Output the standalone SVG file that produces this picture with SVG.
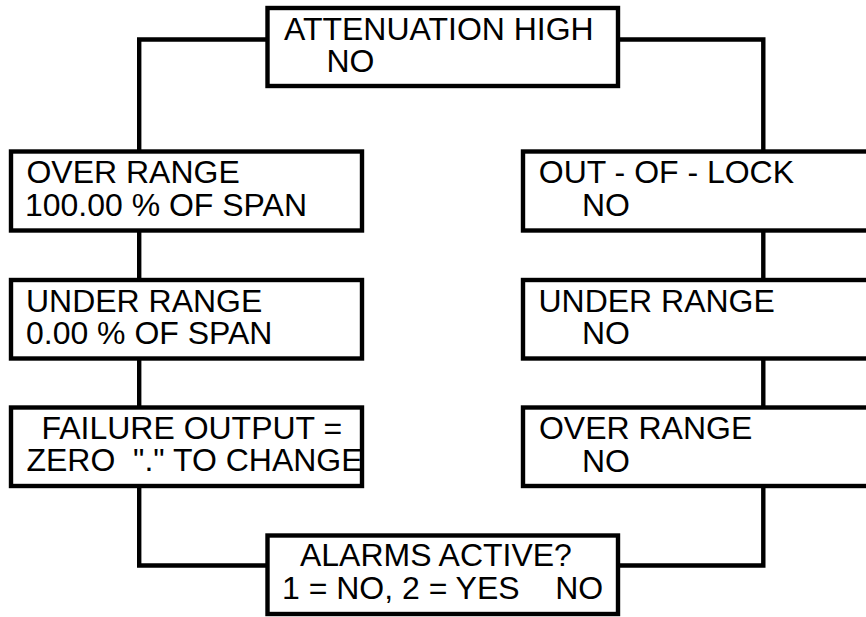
<svg xmlns="http://www.w3.org/2000/svg" width="866" height="617" viewBox="0 0 866 617">
<style>
.box{fill:none;stroke:#000;stroke-width:4.4}
.bg{fill:#fff;stroke:none}
.conn{fill:none;stroke:#000;stroke-width:4.4;stroke-linejoin:miter}
text{font-family:"Liberation Sans",Arial,sans-serif;font-size:31px;fill:#000}
</style>
<rect x="0" y="0" width="866" height="617" fill="#fff"/>
<g id="connectors">
<path class="conn" d="M267.5,39.5 H139.2 V151.5"/>
<path class="conn" d="M618,39.5 H763.3 V151.5"/>
<path class="conn" d="M139.2,230.5 V280"/>
<path class="conn" d="M139.2,358.5 V407.5"/>
<path class="conn" d="M139.2,486 V565.5 H267.5"/>
<path class="conn" d="M763.3,230.5 V280"/>
<path class="conn" d="M763.3,358.5 V407.5"/>
<path class="conn" d="M763.3,486 V565.5 H618"/>
</g>
<g id="n-atten">
<rect class="bg" x="267.5" y="8" width="350.5" height="78"/>
<text transform="matrix(1.032 0 0 1 284 39.7)">ATTENUATION HIGH</text>
<text transform="matrix(1.032 0 0 1 326.5 72)">NO</text>
<rect class="box" x="267.5" y="8" width="350.5" height="78"/>
</g>
<g id="n-over-span">
<rect class="bg" x="11" y="151.5" width="351" height="79"/>
<text transform="matrix(1.032 0 0 1 26.5 182.9)">OVER RANGE</text>
<text transform="matrix(1.032 0 0 1 25 215.7)">100.00 % OF SPAN</text>
<rect class="box" x="11" y="151.5" width="351" height="79"/>
</g>
<g id="n-under-span">
<rect class="bg" x="11" y="280" width="351" height="78.5"/>
<text transform="matrix(1.032 0 0 1 26 311.9)">UNDER RANGE</text>
<text transform="matrix(1.032 0 0 1 26 343.7)">0.00 % OF SPAN</text>
<rect class="box" x="11" y="280" width="351" height="78.5"/>
</g>
<g id="n-failure">
<rect class="bg" x="11" y="407.5" width="351" height="78.5"/>
<text transform="matrix(1.032 0 0 1 41.5 438.7)">FAILURE OUTPUT =</text>
<text xml:space="preserve" transform="matrix(1.032 0 0 1 26.5 471.2)">ZERO  "." TO CHANGE</text>
<rect class="box" x="11" y="407.5" width="351" height="78.5"/>
</g>
<g id="n-alarms">
<rect class="bg" x="267.5" y="535.5" width="350.5" height="78.5"/>
<text transform="matrix(1.032 0 0 1 300 566.2)">ALARMS ACTIVE?</text>
<text xml:space="preserve" transform="matrix(1.032 0 0 1 282 598.7)">1 = NO, 2 = YES    NO</text>
<rect class="box" x="267.5" y="535.5" width="350.5" height="78.5"/>
</g>
<g id="n-lock">
<rect class="bg" x="523" y="151.5" width="360" height="79"/>
<text transform="matrix(1.032 0 0 1 538.8 182.9)">OUT - OF - LOCK</text>
<text transform="matrix(1.032 0 0 1 582 215.7)">NO</text>
<rect class="box" x="523" y="151.5" width="360" height="79"/>
</g>
<g id="n-under-no">
<rect class="bg" x="523" y="280" width="360" height="78.5"/>
<text transform="matrix(1.032 0 0 1 538.5 311.9)">UNDER RANGE</text>
<text transform="matrix(1.032 0 0 1 582 343.7)">NO</text>
<rect class="box" x="523" y="280" width="360" height="78.5"/>
</g>
<g id="n-over-no">
<rect class="bg" x="523" y="407.5" width="360" height="78.5"/>
<text transform="matrix(1.032 0 0 1 539 439.2)">OVER RANGE</text>
<text transform="matrix(1.032 0 0 1 582 471.7)">NO</text>
<rect class="box" x="523" y="407.5" width="360" height="78.5"/>
</g>
</svg>
